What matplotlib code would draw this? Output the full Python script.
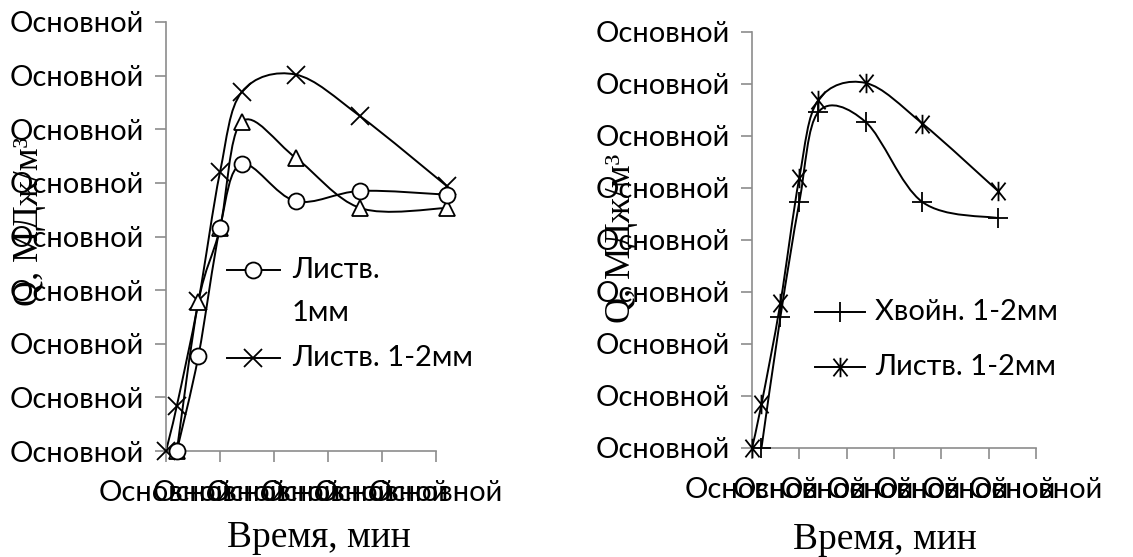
import numpy as np
import matplotlib
matplotlib.use('Agg')
import matplotlib.pyplot as plt
from matplotlib.path import Path
from matplotlib.patches import PathPatch

# ---- data ----
tick_text = 'Основной'
y_ticks = [0, 1, 2, 3, 4, 5, 6, 7, 8]
x_ticks_left = [0, 5, 10, 15, 20, 25]
x_ticks_right = [0, 5, 10, 15, 20, 25, 30]

x_lst1 = [1, 3, 5, 7, 12, 18, 26]
q_lst1 = [0, 1.77, 4.16, 5.35, 4.66, 4.85, 4.78]

x_tri = [1, 3, 5, 7, 12, 18, 26]
q_tri = [0, 2.78, 4.16, 6.14, 5.47, 4.53, 4.53]

x_lst12 = [0, 1, 3, 5, 7, 12, 18, 26]
q_lst12 = [0, 0.84, 2.79, 5.2, 6.69, 7.02, 6.24, 4.94]

x_hv12 = [1, 3, 5, 7, 12, 18, 26]
q_hv12 = [0, 2.52, 4.73, 6.46, 6.27, 4.73, 4.42]

sans = ['Lato', 'DejaVu Sans']
serif = ['Liberation Serif', 'DejaVu Serif']
plt.rcParams['font.family'] = sans

# star marker like excel (x + vertical bar)
star = Path([(-0.8, -1), (0.8, 1), (-0.8, 1), (0.8, -1), (0, -1.1), (0, 1.1)],
            [Path.MOVETO, Path.LINETO, Path.MOVETO, Path.LINETO, Path.MOVETO, Path.LINETO])


def smooth(ax, xs, ys):
    # catmull-rom style bezier like excel smoothed lines
    p = np.column_stack([xs, ys]).astype(float)
    verts = [p[0]]
    codes = [Path.MOVETO]
    n = len(p)
    for i in range(n - 1):
        a = p[i - 1] if i > 0 else p[i]
        d = p[i + 2] if i + 2 < n else p[i + 1]
        c1 = p[i] + (p[i + 1] - a) / 6
        c2 = p[i + 1] - (d - p[i]) / 6
        verts += [c1, c2, p[i + 1]]
        codes += [Path.CURVE4] * 3
    ax.add_patch(PathPatch(Path(verts, codes), fill=False, ec='k', lw=1.4, clip_on=False, zorder=2))


def style(ax, xt):
    ax.set_ylim(0, 8)
    ax.set_xlim(xt[0], xt[-1])
    ax.set_yticks(y_ticks)
    ax.set_xticks(xt)
    ax.set_yticklabels([tick_text] * len(y_ticks))
    ax.set_xticklabels([tick_text] * len(xt))
    for s in ['top', 'right']:
        ax.spines[s].set_visible(False)
    for s in ['left', 'bottom']:
        ax.spines[s].set_color('#8c8c8c')
        ax.spines[s].set_linewidth(1.2)
    ax.tick_params(axis='both', colors='#8c8c8c', width=1.2, length=8, labelsize=21,
                   labelcolor='black')
    ax.tick_params(axis='y', pad=8)
    ax.tick_params(axis='x', pad=13)


def legend_entry(ax, x0, x1, y, marker, ms):
    ax.plot([x0, x1], [y, y], color='k', lw=1.4, transform=ax.transAxes, clip_on=False)
    ax.plot([(x0 + x1) / 2], [y], marker=marker, ms=ms, mfc='white', mec='k', mew=1.3,
            transform=ax.transAxes, clip_on=False)


fig = plt.figure(figsize=(11.33, 5.57), dpi=100)

# ---- left chart ----
ax1 = fig.add_axes([166 / 1133, 106 / 557, 270 / 1133, 429 / 557])
style(ax1, x_ticks_left)
smooth(ax1, x_lst12, q_lst12)
smooth(ax1, x_tri, q_tri)
smooth(ax1, x_lst1, q_lst1)
ax1.plot(x_lst12, q_lst12, ls='none', marker='x', ms=13, mec='k', mew=1.3, clip_on=False, zorder=3)
ax1.plot(x_tri, q_tri, ls='none', marker='^', ms=12, mfc='white', mec='k', mew=1.3, clip_on=False, zorder=3)
ax1.plot(x_lst1, q_lst1, ls='none', marker='o', ms=11.5, mfc='white', mec='k', mew=1.3, clip_on=False, zorder=4)

legend_entry(ax1, 0.226, 0.422, 0.422, 'o', 11.5)
ax1.text(0.467, 0.422, 'Листв.', fontsize=21, va='center', transform=ax1.transAxes)
ax1.text(0.467, 0.322, '1мм', fontsize=21, va='center', transform=ax1.transAxes)
legend_entry(ax1, 0.226, 0.422, 0.217, 'x', 13)
ax1.text(0.467, 0.217, 'Листв. 1-2мм', fontsize=21, va='center', transform=ax1.transAxes)

# ---- right chart ----
ax2 = fig.add_axes([752 / 1133, 109 / 557, 284 / 1133, 416 / 557])
style(ax2, x_ticks_right)
smooth(ax2, x_lst12, q_lst12)
smooth(ax2, x_hv12, q_hv12)
ax2.plot(x_hv12, q_hv12, ls='none', marker='+', ms=15, mec='k', mew=1.3, clip_on=False, zorder=3)
ax2.plot(x_lst12, q_lst12, ls='none', marker=star, ms=14, mec='k', mew=1.3, clip_on=False, zorder=3)

legend_entry(ax2, 0.222, 0.398, 0.327, '+', 15)
ax2.text(0.433, 0.327, 'Хвойн. 1-2мм', fontsize=21, va='center', transform=ax2.transAxes)
legend_entry(ax2, 0.222, 0.398, 0.195, star, 14)
ax2.text(0.433, 0.195, 'Листв. 1-2мм', fontsize=21, va='center', transform=ax2.transAxes)

# axis titles
fig.text(30 / 1133, 1 - 221 / 557, 'Q, МДж/м³', rotation=90, ha='center', va='center',
         fontsize=26, family=serif)
fig.text(621 / 1133, 1 - 238 / 557, 'Q, МДж/м³', rotation=90, ha='center', va='center',
         fontsize=26, family=serif)
fig.text(319 / 1133, 1 - 547 / 557, 'Время, мин', ha='center', va='baseline', fontsize=27, family=serif)
fig.text(885 / 1133, 1 - 549 / 557, 'Время, мин', ha='center', va='baseline', fontsize=27, family=serif)

fig.savefig('out.png', dpi=100)
